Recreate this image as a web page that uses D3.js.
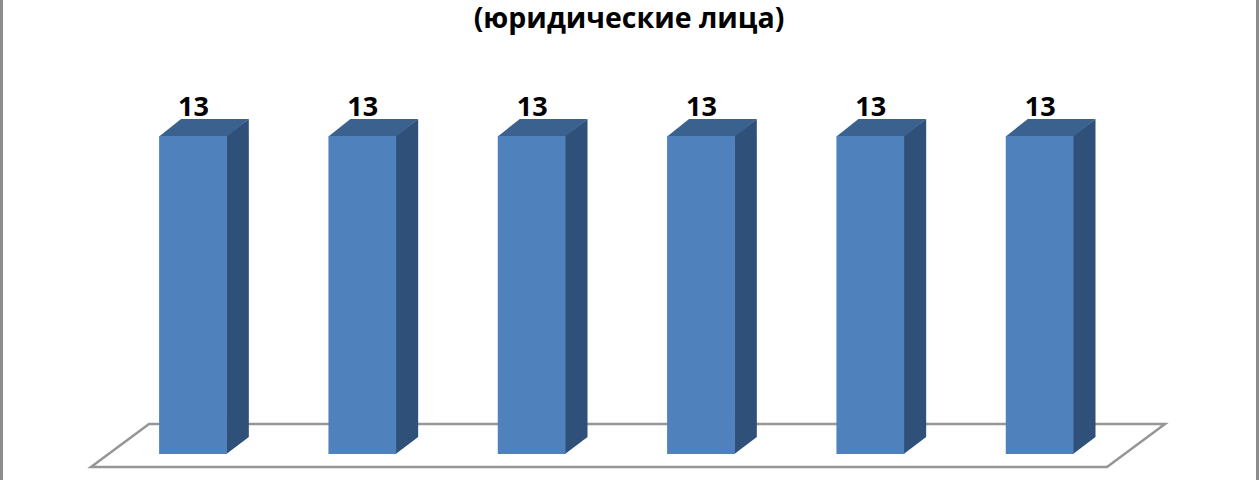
<!DOCTYPE html>
<html>
<head>
<meta charset="utf-8">
<script src="https://cdn.jsdelivr.net/npm/d3@7"></script>
<style>
  html, body { margin: 0; padding: 0; background: #fff; }
  svg { display: block; }
  text { font-family: "Open Sans", sans-serif; font-weight: 700; fill: #000; }
</style>
</head>
<body>
<svg id="chart"></svg>
<script>
var categories = ["1", "2", "3", "4", "5", "6"];
var values = [13, 13, 13, 13, 13, 13];
var titleLine = "(юридические лица)";

var width = 1260;
var height = 480;

// 3D offsets of the bar and of the floor
var barDx = 22;
var barDy = -17;
var floorDx = 58;
var floorDy = -43;

var svg = d3.select("#chart")
  .attr("width", width)
  .attr("height", height);

var xScale = d3.scaleBand()
  .domain(categories)
  .range([108.3, 1124.3])
  .paddingInner(0.6)
  .paddingOuter(0.3);

var yScale = d3.scaleLinear()
  .domain([0, 13])
  .range([454, 136]);

// outer frame, only the sides are in view
svg.selectAll("line.frame")
  .data([1.5, 1257.5])
  .enter().append("line")
  .attr("class", "frame")
  .attr("x1", function (d) { return d; })
  .attr("x2", function (d) { return d; })
  .attr("y1", 0)
  .attr("y2", height)
  .attr("stroke", "#8c8c8c")
  .attr("stroke-width", 3);

// floor
var floorLeft = xScale.range()[0] - 17.3;
var floorRight = xScale.range()[1] - 17.3;
var floorY = yScale(0) + 13;
svg.append("path")
  .attr("d", d3.line()([
    [floorLeft, floorY],
    [floorRight, floorY],
    [floorRight + floorDx, floorY + floorDy],
    [floorLeft + floorDx, floorY + floorDy]
  ]) + "Z")
  .attr("fill", "#fff")
  .attr("stroke", "#969696")
  .attr("stroke-width", 2.5);

var bar = svg.selectAll("g.bar")
  .data(values)
  .enter().append("g")
  .attr("class", "bar");

function X(d, i) { return xScale(categories[i]); }

// side face
bar.append("path")
  .attr("fill", "#2f5079")
  .attr("d", function (d, i) {
    var x = X(d, i) + xScale.bandwidth() - 0.5;
    return d3.line()([
      [x, yScale(d)],
      [x + barDx + 0.5, yScale(d) + barDy],
      [x + barDx + 0.5, yScale(0) + barDy],
      [x, yScale(0)]
    ]) + "Z";
  });

// top face
bar.append("path")
  .attr("fill", "#3b618f")
  .attr("d", function (d, i) {
    var x = X(d, i);
    var w = xScale.bandwidth();
    return d3.line()([
      [x, yScale(d) + 0.5],
      [x + barDx, yScale(d) + barDy],
      [x + w + barDx, yScale(d) + barDy],
      [x + w, yScale(d) + 0.5]
    ]) + "Z";
  });

// front face
bar.append("rect")
  .attr("x", X)
  .attr("y", function (d) { return yScale(d); })
  .attr("width", xScale.bandwidth())
  .attr("height", function (d) { return yScale(0) - yScale(d); })
  .attr("fill", "#4f81bd");

// value labels
bar.append("text")
  .attr("x", function (d, i) { return X(d, i) + xScale.bandwidth() / 2 + 0.5; })
  .attr("y", function (d) { return yScale(d) - 20.5; })
  .attr("text-anchor", "middle")
  .attr("font-size", 27)
  .text(function (d) { return d; });

svg.append("text")
  .attr("x", 629)
  .attr("y", 28)
  .attr("text-anchor", "middle")
  .attr("font-size", 28.5)
  .text(titleLine);
</script>
</body>
</html>
